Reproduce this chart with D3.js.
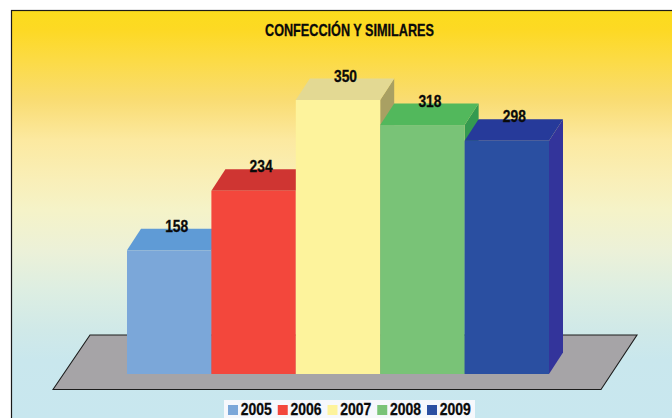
<!DOCTYPE html>
<html>
<head>
<meta charset="utf-8">
<script src="https://cdn.jsdelivr.net/npm/d3@7"></script>
<style>
  html, body { margin: 0; padding: 0; background: #fff; }
  svg { display: block; }
  text { font-family: "Liberation Sans", sans-serif; font-weight: bold; fill: #0a0a0a; stroke: #0a0a0a; stroke-width: 0.3; }
</style>
</head>
<body>
<div id="chart"></div>
<script>
var years = ['2005', '2006', '2007', '2008', '2009'];
var values = [158, 234, 350, 318, 298];
var frontColors = ['#7ba7d9', '#f3473c', '#fdf39c', '#79c377', '#2a4fa1'];
var topColors = ['#5f9bd6', '#cf3532', '#e3d993', '#52b85c', '#263a9a'];
var sideColors = ['#4f7fb5', '#a82a28', '#a9a063', '#349a50', '#33349b'];
var bgStopY = [10, 30, 60, 100, 140, 180, 210, 250, 290, 330, 360, 418];
var bgStopColors = ['#fbdc1c', '#fdd924', '#fcdb45', '#f9dc72', '#fce9a0', '#f9efb8', '#f5f3c8', '#ecf1d8', '#ddeee2', '#d0e9e8', '#c9e7ed', '#c8e7ef'];

var width = 672;
var height = 418;
var depthX = 14;
var depthY = 21.5;

var svg = d3.select("#chart").append("svg")
  .attr("width", width)
  .attr("height", height);

var grad = svg.append("defs").append("linearGradient")
  .attr("id", "bg")
  .attr("gradientUnits", "userSpaceOnUse")
  .attr("x1", 0).attr("y1", 10).attr("x2", 0).attr("y2", height);
grad.selectAll("stop")
  .data(bgStopY)
  .enter().append("stop")
  .attr("offset", function(d) { return (d - 10) / (height - 10); })
  .attr("stop-color", function(d, i) { return bgStopColors[i]; });

svg.append("rect")
  .attr("x", 11.5).attr("y", 10.5)
  .attr("width", width).attr("height", height)
  .attr("fill", "url(#bg)")
  .attr("stroke", "#1a1a1a")
  .attr("stroke-width", 1.2);

var x = d3.scaleBand()
  .domain(years)
  .range([127, 549]);

var y = d3.scaleLinear()
  .domain([0, 350])
  .range([374, 100]);

// floor
var floorPts = [[53, 389.5], [90, 335], [637, 335], [601, 389.5]];
svg.append("path")
  .attr("d", d3.line()(floorPts) + "Z")
  .attr("fill", "#a6a4a7")
  .attr("stroke", "#1c1c1c")
  .attr("stroke-width", 1.1);

var bars = svg.selectAll("g.bar")
  .data(years)
  .enter().append("g")
  .attr("class", "bar");

bars.each(function(d, i) {
  var g = d3.select(this);
  var x0 = x(d);
  var x1 = x0 + x.bandwidth();
  var yTop = y(values[i]);
  var y0 = y(0);

  g.append("path")
    .attr("d", d3.line()([[x1, y0], [x1 + depthX, y0 - depthY], [x1 + depthX, yTop - depthY], [x1, yTop]]) + "Z")
    .attr("fill", sideColors[i]);

  g.append("path")
    .attr("d", d3.line()([[x0, yTop], [x0 + depthX, yTop - depthY], [x1 + depthX, yTop - depthY], [x1, yTop]]) + "Z")
    .attr("fill", topColors[i]);

  g.append("rect")
    .attr("x", x0)
    .attr("y", yTop)
    .attr("width", x.bandwidth())
    .attr("height", y0 - yTop)
    .attr("fill", frontColors[i]);
});

svg.selectAll("text.value")
  .data(years)
  .enter().append("text")
  .attr("class", "value")
  .attr("x", function(d) { return x(d) + x.bandwidth() / 2 + 7.5; })
  .attr("y", function(d, i) { return y(values[i]) - 18.5; })
  .attr("text-anchor", "middle")
  .attr("font-size", 16.5)
  .attr("textLength", 23)
  .attr("lengthAdjust", "spacingAndGlyphs")
  .text(function(d, i) { return values[i]; });

svg.append("text")
  .attr("x", 349.5)
  .attr("y", 36)
  .attr("text-anchor", "middle")
  .attr("font-size", 16.5)
  .attr("textLength", 169)
  .attr("lengthAdjust", "spacingAndGlyphs")
  .text("CONFECCIÓN Y SIMILARES");

// legend
var legend = svg.append("g");
legend.append("rect")
  .attr("x", 224).attr("y", 400)
  .attr("width", 251).attr("height", 18)
  .attr("fill", "#f6f8fc");

var legendX = d3.scalePoint()
  .domain(years)
  .range([228, 427]);

var items = legend.selectAll("g")
  .data(years)
  .enter().append("g")
  .attr("transform", function(d) { return "translate(" + legendX(d) + ",0)"; });

items.append("rect")
  .attr("y", 405)
  .attr("width", 10)
  .attr("height", 10)
  .attr("fill", function(d, i) { return frontColors[i]; });

items.append("text")
  .attr("x", 12.7)
  .attr("y", 414.5)
  .attr("font-size", 16.5)
  .attr("textLength", 31)
  .attr("lengthAdjust", "spacingAndGlyphs")
  .text(function(d) { return d; });
</script>
</body>
</html>
